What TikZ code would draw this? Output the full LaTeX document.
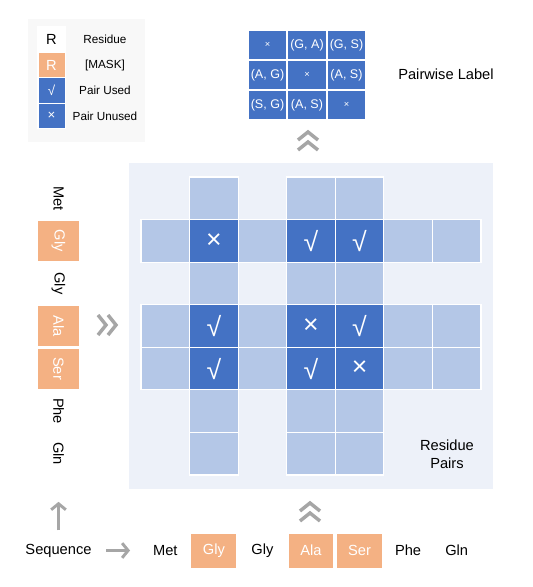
\documentclass[tikz,border=0pt]{standalone}
\usepackage{fontspec}
\setmainfont{Liberation Sans}
\usetikzlibrary{arrows.meta,positioning}
\definecolor{RPDark}{HTML}{4472C4}
\definecolor{RPLight}{HTML}{B4C7E7}
\definecolor{RPPanel}{HTML}{EDF1F9}
\definecolor{RPOrange}{HTML}{F4B183}
\definecolor{RPGray}{HTML}{A6A6A6}
\definecolor{RPLegend}{HTML}{F8F8F8}
\tikzset{
  flowgray/.style={-{Straight Barb[length=4.5pt,width=11pt]},RPGray,line width=2.2pt},
  chevron/.style={RPGray,line width=2.6pt,miter limit=4},
  dchev/.pic={\draw[chevron] (-10,-1)--(0,-9)--(10,-1) (-10,9)--(0,1)--(10,9);},
  panel/.style={fill=RPPanel,inner sep=0pt},
  keypanel/.style={fill=RPLegend,inner sep=0pt},
  cell/.style={draw=white,line width=0.9pt,inner sep=0pt,text=white,
               minimum width=36.4pt,minimum height=31.9pt},
  pairbox/.style={cell,fill=RPLight},
  pairused/.style={cell,fill=RPDark,font=\fontsize{20}{20}\selectfont},
  label/.style={cell,draw=none,fill=RPDark,minimum width=28.1pt,minimum height=21.7pt,
                font=\fontsize{9.4}{11}\selectfont},
  res/.style={inner sep=0pt,text=black,font=\fontsize{11}{13}\selectfont},
  resmask/.style={res,draw=white,line width=0.8pt,fill=RPOrange,text=white},
  colres/.style={minimum width=30.8pt,minimum height=31.9pt,rotate=-90},
  rowres/.style={minimum width=34.5pt,minimum height=26.3pt},
  keybox/.style={draw=white,line width=0.8pt,inner sep=0pt,minimum width=20.3pt,
                 minimum height=19.1pt,text=white,font=\fontsize{11}{13}\selectfont},
  keytext/.style={inner sep=0pt,font=\fontsize{8.8}{10}\selectfont},
  plain/.style={inner sep=0pt,font=\fontsize{11}{13.5}\selectfont,align=center},
}

\begin{document}
\begin{tikzpicture}[x=0.75pt,y=-0.75pt]
    \useasboundingbox (0,0) rectangle (533,587);

    % legend
    \node[keypanel,minimum width=87.8pt,minimum height=92.3pt] (key) at (86.5,80.5) {};
    \node[keybox,fill=white,text=black] (key-res) at (51.5,39.5) {R};
    \node[keybox,fill=RPOrange] (key-mask) at (51.5,65) {R};
    \node[keybox,fill=RPDark,font=\fontsize{10}{12}\selectfont] (key-used) at (51.5,90.5) {√};
    \node[keybox,fill=RPDark,font=\fontsize{10}{12}\selectfont] (key-unused) at (51.5,116) {×};
    \node[keytext] (key-res-text) at (105,39.5) {Residue};
    \node[keytext] (key-mask-text) at (105,65) {[MASK]};
    \node[keytext] (key-used-text) at (105,90.5) {Pair Used};
    \node[keytext] (key-unused-text) at (105,116) {Pair Unused};

    % pairwise label matrix
    \node[label,font=\fontsize{7}{8}\selectfont] (lab-1-1) at (267.5,45) {×};
    \node[label] (lab-1-2) at (307,45) {(G, A)};
    \node[label] (lab-1-3) at (346.5,45) {(G, S)};
    \node[label] (lab-2-1) at (267.5,75) {(A, G)};
    \node[label,font=\fontsize{7}{8}\selectfont] (lab-2-2) at (307,75) {×};
    \node[label] (lab-2-3) at (346.5,75) {(A, S)};
    \node[label] (lab-3-1) at (267.5,105) {(S, G)};
    \node[label] (lab-3-2) at (307,105) {(A, S)};
    \node[label,font=\fontsize{7}{8}\selectfont] (lab-3-3) at (346.5,105) {×};
    \node[plain] (lab-text) at (446,74) {Pairwise Label};

    % residue pairs, masked rows and columns only
    \node[panel,minimum width=273pt,minimum height=244.5pt] (pairs) at (311,326) {};
    \foreach \r in {2,4,5}
      \foreach \c in {1,3,6,7}
        \node[pairbox] (pair-\r-\c) at ({116.7+48.57*\c},{155.7+42.57*\r}) {};
    \foreach \c in {2,4,5}
      \foreach \r in {1,3,6,7}
        \node[pairbox] (pair-\r-\c) at ({116.7+48.57*\c},{155.7+42.57*\r}) {};
    \foreach \r in {2,4,5}
      \foreach \c in {2,4,5}
        \node[pairused] (pair-\r-\c) at ({116.7+48.57*\c},{155.7+42.57*\r})
          {\ifnum\r=\c ×\else √\fi};
    \node[plain] (pairs-text) at (447,454) {Residue\\Pairs};

    % sequence down the side
    \node[res,colres] (col-1) at (58.5,198.3) {Met};
    \node[resmask,colres] (col-2) at (58.5,240.9) {Gly};
    \node[res,colres] (col-3) at (58.5,283.4) {Gly};
    \node[resmask,colres] (col-4) at (58.5,326.0) {Ala};
    \node[resmask,colres] (col-5) at (58.5,368.6) {Ser};
    \node[res,colres] (col-6) at (58.5,411.1) {Phe};
    \node[res,colres] (col-7) at (58.5,453.7) {Gln};

    % sequence along the bottom
    \node[plain] (seq) at (58.5,550.5) {Sequence};
    \node[res,rowres] (row-1) at (165.3,550.5) {Met};
    \node[resmask,rowres] (row-2) at (213.9,550.5) {Gly};
    \node[res,rowres] (row-3) at (262.4,550.5) {Gly};
    \node[resmask,rowres] (row-4) at (311.0,550.5) {Ala};
    \node[resmask,rowres] (row-5) at (359.6,550.5) {Ser};
    \node[res,rowres] (row-6) at (408.1,550.5) {Phe};
    \node[res,rowres] (row-7) at (456.7,550.5) {Gln};

    \draw[flowgray] ([xshift=11pt]seq.east) -- ([xshift=-9pt]row-1.west);
    \draw[flowgray] ([yshift=10pt]seq.north) -- ([yshift=-20.5pt]col-7.east);

    \pic[rotate=-90] at (107,325) {dchev};
    \pic at (310,512) {dchev};
    \pic at (308,141) {dchev};
\end{tikzpicture}
\end{document}
